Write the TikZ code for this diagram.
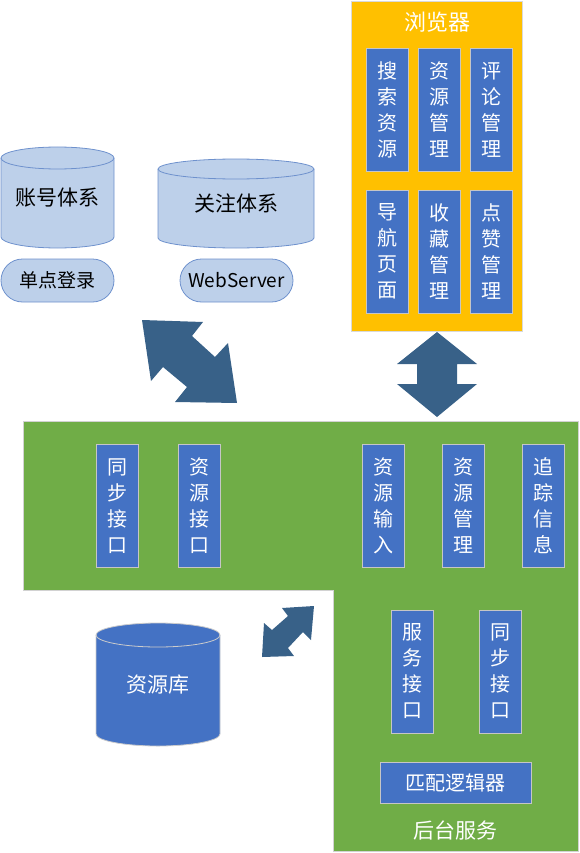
\documentclass[tikz,border=0pt]{standalone}
\usepackage{fontspec}
\setmainfont{Noto Sans CJK SC}
\usetikzlibrary{positioning,shapes.misc}
\definecolor{browser}{RGB}{255,192,0}
\definecolor{backend}{RGB}{112,173,71}
\definecolor{modblue}{RGB}{68,114,196}
\definecolor{lightblue}{RGB}{189,208,234}
\definecolor{edgeblue}{RGB}{110,145,205}
\definecolor{arrowblue}{RGB}{56,97,136}
\tikzset{%
  module/.style={draw=gray!45, line width=0.8pt, fill=modblue, text=white, inner sep=0pt,
    minimum width=42, minimum height=123, align=center, font=\fontsize{20}{26}\selectfont},% vertical module
  wide/.style={module, minimum width=151, minimum height=41},% horizontal module
  pill/.style={draw=edgeblue, line width=0.8pt, fill=lightblue, rounded rectangle, inner sep=0pt,
    minimum width=113, minimum height=43, font=\fontsize{19}{19}\selectfont},
  title/.style={text=white, font=\fontsize{22}{22}\selectfont},
  label/.style={font=\fontsize{21}{21}\selectfont},
  bigarrow/.style={fill=arrowblue}
}
\newcommand*{\dbcyl}[7]{% x1, x2, top y, bottom y, y radius, fill, border
  \pgfmathsetmacro{\rx}{(#2-#1)/2}
  \draw[line width=0.8pt, fill=#6, draw=#7] (#1,#3) -- (#1,#4)
    arc[start angle=180, end angle=360, x radius=\rx pt, y radius=#5pt] -- (#2,#3)
    arc[start angle=0, end angle=180, x radius=\rx pt, y radius=#5pt] -- cycle;
  \draw[line width=0.8pt, draw=#7] (#1,#3)
    arc[start angle=180, end angle=360, x radius=\rx pt, y radius=#5pt];
}

\begin{document}
\begin{tikzpicture}[x=1pt, y=-1pt]
\useasboundingbox (0,0) rectangle (579,853);

% browser
\draw[fill=browser, draw=gray!30, line width=0.8pt] (351,1) rectangle (522,331);
\node[title] (browsertitle) at (437,22) {浏览器};
\node[module] (search) at (387,109.5) {搜\\索\\资\\源};
\node[module] (resmgr) at (439,109.5) {资\\源\\管\\理};
\node[module] (comment) at (491,109.5) {评\\论\\管\\理};
\node[module] (nav) at (387,251.5) {导\\航\\页\\面};
\node[module] (fav) at (439,251.5) {收\\藏\\管\\理};
\node[module] (like) at (491,251.5) {点\\赞\\管\\理};

% account and follow systems
\dbcyl{1}{114}{158}{237}{11}{lightblue}{edgeblue}
\node[label] (account) at (57,198) {账号体系};
\dbcyl{158}{314}{169}{238}{10}{lightblue}{edgeblue}
\node[label] (follow) at (236,203) {关注体系};
\node[pill] (sso) at (57.5,280.5) {单点登录};
\node[pill] (webserver) at (236.5,280.5) {WebServer};

% arrows
\fill[bigarrow] (142,320) -- (203,322) -- (192,336) -- (215,357) -- (228,343) -- (237,403)
  -- (175,402) -- (187,387) -- (163,367) -- (151,381) -- cycle;
\fill[bigarrow] (437,332) -- (477,364) -- (457,364) -- (457,384) -- (477,384) -- (437,417)
  -- (397,384) -- (417,384) -- (417,364) -- (397,364) -- cycle;
\fill[bigarrow] (314,606) -- (311,640) -- (303,632) -- (288,648) -- (294,656) -- (262,657)
  -- (264,623) -- (272,630) -- (288,616) -- (282,608) -- cycle;

% backend
\draw[fill=backend, draw=gray!35, line width=0.8pt] (23,421) -- (578,421) -- (578,851)
  -- (333,851) -- (333,590) -- (23,590) -- cycle;
\node[module] (syncleft) at (117,506) {同\\步\\接\\口};
\node[module] (resif) at (199,506) {资\\源\\接\\口};
\node[module] (resin) at (383,506) {资\\源\\输\\入};
\node[module] (resmgrb) at (463.5,506) {资\\源\\管\\理};
\node[module] (trace) at (543.5,506) {追\\踪\\信\\息};
\node[module] (service) at (412,671.5) {服\\务\\接\\口};
\node[module] (syncright) at (500.5,671.5) {同\\步\\接\\口};
\node[wide] (matcher) at (455.5,782.5) {匹配逻辑器};
\node[title, font=\fontsize{21}{21}\selectfont] (backendtitle) at (455,830) {后台服务};

% resource store
\dbcyl{96}{220}{635}{734}{12}{modblue}{gray!40}
\node[label, text=white] (store) at (158,685) {资源库};

\end{tikzpicture}
\end{document}
